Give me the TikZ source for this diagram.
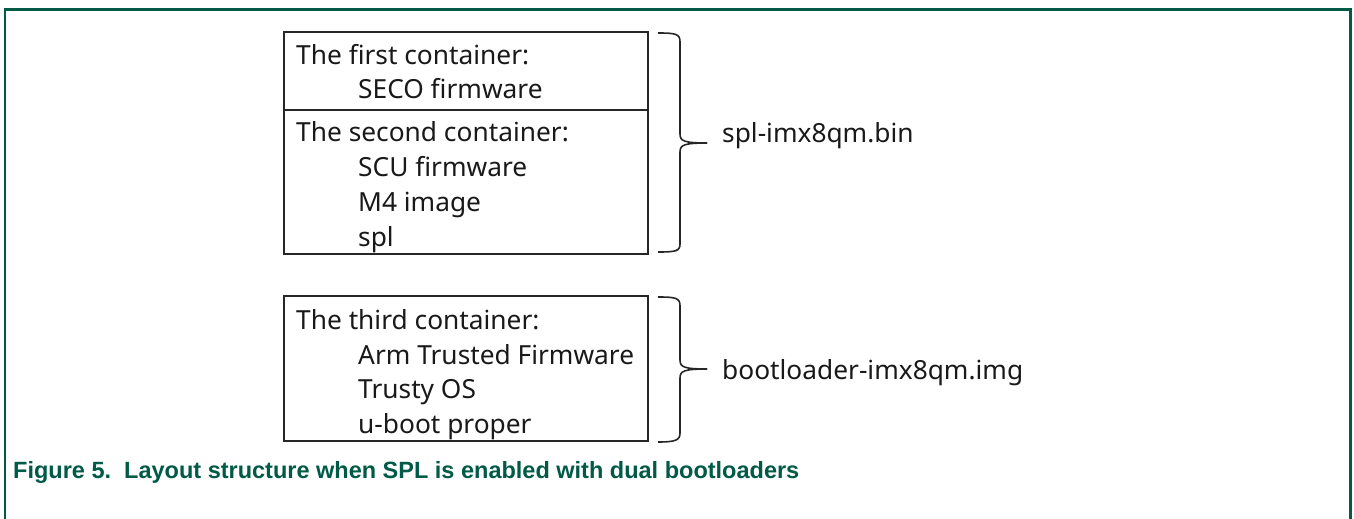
\documentclass[tikz,border=0pt]{standalone}
\usepackage{fontspec}
\setmainfont{Noto Sans}
\newfontfamily\capfont{Liberation Sans}
\usepackage{tikz}
\definecolor{nxpgreen}{RGB}{0,90,70}
\tikzset{
  cbox/.style={draw=black!85,line width=1.4,minimum width=364,inner sep=0},
  ctext/.style={anchor=base west,inner sep=0,font=\fontsize{26.3}{30}\selectfont,text=black!90},
  cbrace/.style={draw=black!85,line width=1.6}
}
\begin{document}
\begin{tikzpicture}[x=1pt,y=-1pt]
			\useasboundingbox (0,0) rectangle (1354,519);
			\draw [nxpgreen,line width=2.6] (5,525) -- (5,9.3) -- (1350.5,9.3) -- (1350.5,525);
			\node [cbox,minimum height=78] (first) at (466,71) {};
			\node [cbox,minimum height=144] (second) at (466,182) {};
			\node [cbox,minimum height=145] (third) at (466,368.5) {};
			\node [ctext] (t1) at (296,64) {The first container:};
			\node [ctext] (t1a) at (358,99) {SECO firmware};
			\node [ctext] (t2) at (296,141) {The second container:};
			\node [ctext] (t2a) at (358,176) {SCU firmware};
			\node [ctext] (t2b) at (358,211) {M4 image};
			\node [ctext] (t2c) at (358,246) {spl};
			\node [ctext] (t3) at (296,329) {The third container:};
			\node [ctext] (t3a) at (358,364) {Arm Trusted Firmware};
			\node [ctext] (t3b) at (358,398) {Trusty OS};
			\node [ctext] (t3c) at (358,433) {u-boot proper};
			\node [ctext] (spl) at (722,142) {spl-imx8qm.bin};
			\node [ctext] (boot) at (722,379) {bootloader-imx8qm.img};
			\draw [cbrace] (658,33) .. controls (676,33) and (680,34) .. (680,42)
				-- (680,134) .. controls (680,141) and (684,143) .. (707,143);
			\draw [cbrace] (707,143) .. controls (684,143) and (680,145) .. (680,152)
				-- (680,244) .. controls (680,251) and (676,252) .. (658,252);
			\draw [cbrace] (658,297) .. controls (676,297) and (680,298) .. (680,306)
				-- (680,360) .. controls (680,367) and (684,369) .. (707,369);
			\draw [cbrace] (707,369) .. controls (684,369) and (680,371) .. (680,378)
				-- (680,433) .. controls (680,440) and (676,442) .. (658,442);
			\node [anchor=base west,inner sep=0,text=nxpgreen,font=\capfont\bfseries\fontsize{23.5}{28}\selectfont] (cap) at (13,478) {Figure 5.\ \ Layout structure when SPL is enabled with dual bootloaders};
\end{tikzpicture}
\end{document}
